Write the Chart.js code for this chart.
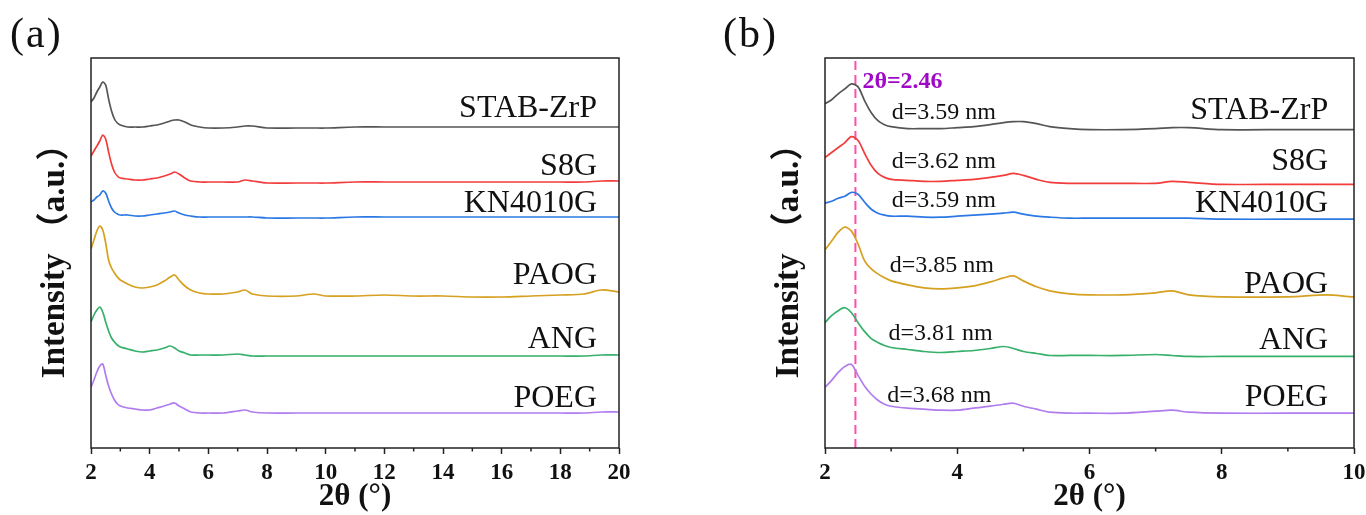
<!DOCTYPE html>
<html>
<head>
<meta charset="utf-8">
<script src="https://cdn.jsdelivr.net/npm/chart.js@4.4.1/dist/chart.umd.min.js"></script>
<style>
    html, body { margin: 0; padding: 0; background: #fff; }
    #wrap { position: relative; width: 1366px; height: 515px; overflow: hidden; }
    .panel { position: absolute; top: 0; width: 683px; height: 515px; }
    .tag { position: absolute; top: 12px; font: 42px 'Liberation Serif', serif; line-height: 42px; letter-spacing: 2px; color: #111; }
</style>
</head>
<body>
<div id="wrap">
    <div class="panel" style="left:0"><canvas id="chart-a" width="683" height="515"></canvas></div>
    <div class="panel" style="left:683px"><canvas id="chart-b" width="683" height="515"></canvas></div>
    <div class="tag" style="left:10px">(a)</div>
    <div class="tag" style="left:723px">(b)</div>
</div>
<script>
// 2θ sampling points (degrees), shared by every pattern
const twoTheta = [2.0, 2.1, 2.2, 2.3, 2.4, 2.5, 2.6, 2.7, 2.8, 2.9, 3.0, 3.25, 3.5, 3.75, 4.0, 4.25, 4.5, 4.7, 4.85, 5.0,
    5.2, 5.4, 5.7, 6.0, 6.5, 7.0, 7.25, 7.5, 8.0, 9.0, 9.6, 10, 11, 12, 13, 14, 15, 16, 17, 18, 18.8, 19.4, 20];

// stacked intensities (a.u., offset per sample)
const stabZrP = [346, 350, 356, 361, 366, 363, 349, 337, 329, 325, 323, 321, 321, 321, 322, 323, 325, 327, 328, 328,
    326, 323, 321, 320, 320, 321, 322, 322, 320, 320, 320, 320, 321, 321, 321, 321, 321, 321, 321, 321, 321, 321, 321];
const s8g = [292, 297, 302, 307, 313, 309, 296, 284, 276, 272, 270, 269, 268, 268, 269, 270, 272, 274, 276, 274,
    270, 267, 266, 266, 266, 266, 268, 267, 265, 265, 265, 265, 266, 266, 266, 266, 266, 266, 266, 266, 266, 267, 267];
const kn4010g = [246, 248, 251, 253, 257, 255, 247, 240, 236, 234, 233, 233, 232, 232, 233, 234, 235, 236, 237, 235,
    233, 232, 231, 231, 231, 231, 231, 231, 230, 230, 230, 230, 231, 231, 231, 231, 231, 231, 231, 231, 231, 231, 231];
const paog = [199, 208, 217, 222, 218, 205, 188, 180, 175, 171, 168, 164, 161, 160, 161, 163, 167, 171, 173, 168,
    162, 158, 155, 154, 154, 156, 158, 154, 152, 152, 154, 152, 152, 153, 152, 152, 151, 151, 152, 153, 154, 158, 156];
const ang = [126, 133, 138, 141, 136, 126, 117, 110, 106, 103, 101, 99, 97, 96, 97, 98, 100, 102, 100, 97,
    95, 93, 93, 93, 93, 94, 93, 92, 92, 92, 92, 92, 92, 92, 92, 92, 92, 92, 92, 92, 92, 93, 93];
const poeg = [61, 68, 76, 82, 84, 73, 62, 54, 48, 44, 42, 40, 39, 38, 38, 40, 42, 44, 45, 42,
    39, 36, 35, 35, 35, 37, 38, 36, 35, 35, 35, 35, 35, 35, 35, 35, 35, 35, 35, 35, 35, 36, 36];

const sampleNames = ['STAB-ZrP', 'S8G', 'KN4010G', 'PAOG', 'ANG', 'POEG'];
const dSpacings = ['3.59', '3.62', '3.59', '3.85', '3.81', '3.68'];
const markerTwoTheta = 2.46;
const xTicksA = [2, 4, 6, 8, 10, 12, 14, 16, 18, 20];
const xTicksB = [2, 4, 6, 8, 10];

const series = [stabZrP, s8g, kn4010g, paog, ang, poeg];
const colors = ['#555555', '#f23c3c', '#2b78e4', '#d6a020', '#36b06a', '#b07cee'];

// label anchors in data units
const labelPosA = { x: 19.25, y: [331, 273, 236, 164, 100, 41] };
const labelPosB = { x: 9.61, y: [331, 279, 237, 156, 100, 42] };
const dLabelPos = { x: [3.01, 3.01, 3.01, 2.98, 2.96, 2.94], y: [331, 281, 242, 177, 109, 46] };

const serif = "'Liberation Serif', 'Times New Roman', serif";

function buildDatasets(withMarker, yMax) {
    const ds = series.map((vals, i) => ({
        label: sampleNames[i],
        data: twoTheta.map((x, j) => ({ x, y: vals[j] })),
        borderColor: colors[i],
        borderWidth: 1.7,
        pointRadius: 0,
        tension: 0.3,
    }));
    if (withMarker) {
        ds.push({
            label: 'marker',
            data: [{ x: markerTwoTheta, y: 0 }, { x: markerTwoTheta, y: yMax }],
            borderColor: '#ff4fa8',
            borderWidth: 2,
            borderDash: [9, 5],
            pointRadius: 0,
            tension: 0,
        });
    }
    return ds;
}

const framePlugin = {
    id: 'frame',
    afterDraw(chart, args, opts) {
        const { ctx, chartArea: a, scales } = chart;
        const xs = scales.x;
        const ys = scales.y;
        ctx.save();
        ctx.strokeStyle = '#222';
        ctx.lineWidth = 1.5;
        ctx.strokeRect(a.left, a.top, a.right - a.left, a.bottom - a.top);
        // minor ticks at odd degrees
        ctx.beginPath();
        for (let v = Math.ceil(xs.min); v <= xs.max; v++) {
            if (v % 2 === 0) continue;
            const px = xs.getPixelForValue(v);
            ctx.moveTo(px, a.bottom);
            ctx.lineTo(px, a.bottom + 3.5);
        }
        ctx.stroke();

        ctx.fillStyle = '#111';
        ctx.font = '32px ' + serif;
        ctx.textAlign = 'right';
        ctx.textBaseline = 'alphabetic';
        const lp = opts.labelPos;
        sampleNames.forEach((name, i) => {
            ctx.fillText(name, xs.getPixelForValue(lp.x), ys.getPixelForValue(lp.y[i]));
        });

        if (opts.showD) {
            ctx.font = '24px ' + serif;
            ctx.textAlign = 'left';
            dSpacings.forEach((d, i) => {
                ctx.fillText('d=' + d + ' nm', xs.getPixelForValue(dLabelPos.x[i]), ys.getPixelForValue(dLabelPos.y[i]));
            });
            ctx.fillStyle = '#a008c8';
            ctx.font = 'bold 24px ' + serif;
            ctx.fillText('2\u03b8=' + markerTwoTheta.toFixed(2), xs.getPixelForValue(markerTwoTheta) + 7, ys.getPixelForValue(362));
        }
        ctx.restore();
    },
};

function makeChart(id, xMax, tickList, yMax, padLeft, padRight, isB) {
    const el = document.getElementById(id);
    return new Chart(el.getContext('2d'), {
        type: 'line',
        data: { datasets: buildDatasets(isB, yMax) },
        plugins: [framePlugin],
        options: {
            responsive: false,
            animation: false,
            events: [],
            layout: { padding: { left: padLeft, right: padRight, top: 58, bottom: 0 } },
            plugins: {
                legend: { display: false },
                tooltip: { enabled: false },
                frame: { labelPos: isB ? labelPosB : labelPosA, showD: isB },
            },
            scales: {
                x: {
                    type: 'linear',
                    min: 2,
                    max: xMax,
                    afterBuildTicks: (s) => { s.ticks = tickList.map((v) => ({ value: v })); },
                    afterFit: (s) => {
                        s.height = 67;
                        s.paddingLeft = 0;
                        s.paddingRight = 0;
                    },
                    grid: { drawOnChartArea: false, drawTicks: true, tickLength: 6, tickColor: '#222', tickWidth: 1.5 },
                    border: { display: false },
                    ticks: { color: '#111', padding: 5, maxRotation: 0, font: { family: serif, size: 23, weight: 'bold' } },
                    title: {
                        display: true,
                        text: '2\u03b8 (\u00b0)',
                        color: '#111',
                        padding: { top: 0, bottom: 0 },
                        font: { family: serif, size: 31, weight: 'bold', lineHeight: 1.15 },
                    },
                },
                y: {
                    type: 'linear',
                    min: 0,
                    max: yMax,
                    afterFit: (s) => { s.width = 91; },
                    grid: { display: false },
                    border: { display: false },
                    ticks: { display: false },
                    title: {
                        display: true,
                        text: 'Intensity \uff08a.u.\uff09',
                        color: '#111',
                        padding: { top: 36, bottom: 0 },
                        font: { family: serif + ", 'Noto Sans CJK SC'", size: 33, weight: 'bold', lineHeight: 1.2 },
                    },
                },
            },
        },
    });
}

makeChart('chart-a', 20, xTicksA, 390, 0, 64, false);
makeChart('chart-b', 10, xTicksB, 392, 51, 12, true);
</script>
</body>
</html>
